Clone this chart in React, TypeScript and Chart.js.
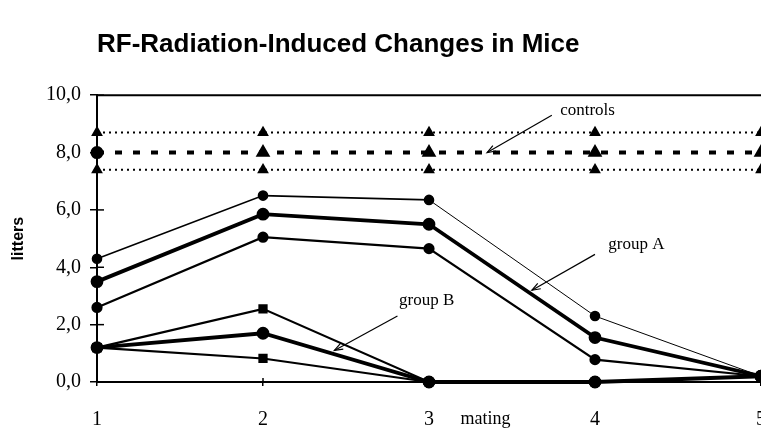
import { useEffect, useRef } from 'react';
import { Chart, registerables } from 'chart.js';

Chart.register(...registerables);

// ---- data ----
const matings = [1, 2, 3, 4, 5];
const yTickValues = [0, 2, 4, 6, 8, 10];

const controlsUpper = [8.7, 8.7, 8.7, 8.7, 8.7];
const controlsMean = [8.0, 8.0, 8.0, 8.0, 8.0];
const controlsLower = [7.4, 7.4, 7.4, 7.4, 7.4];

const groupAUpper = [4.3, 6.5, 6.35, 2.3, 0.2];
const groupAMean = [3.5, 5.85, 5.5, 1.55, 0.2];
const groupALower = [2.6, 5.05, 4.65, 0.78, 0.2];

const groupBUpper = [1.2, 2.55, 0, 0, 0.2];
const groupBMean = [1.2, 1.7, 0, 0, 0.2];
const groupBLower = [1.2, 0.82, 0, 0, 0.2];

const titleText = 'RF-Radiation-Induced Changes in Mice';
const yTitle = 'litters';
const xTitle = 'mating';

// annotation labels (data coordinates)
const labelControls = { text: 'controls', x: 3.79, y: 9.45, fromX: 3.74, fromY: 9.3, toX: 3.35, toY: 8.0 };
const labelGroupA = { text: 'group A', x: 4.08, y: 4.8, fromX: 4.0, fromY: 4.45, toX: 3.62, toY: 3.2 };
const labelGroupB = { text: 'group B', x: 2.82, y: 2.85, fromX: 2.81, fromY: 2.3, toX: 2.43, toY: 1.1 };
const xTitlePos = 3.19;

const pts = (vals: number[]) => matings.map((m, i) => ({ x: m, y: vals[i] }));

const serif = 'Liberation Serif, Times New Roman, serif';

export default function App() {
  const ref = useRef<HTMLCanvasElement>(null);

  useEffect(() => {
    if (!ref.current) return;

    const decor = {
      id: 'decor',
      afterDraw(chart: any) {
        const { ctx, chartArea, scales } = chart;
        const xs = scales.x;
        const ys = scales.y;
        ctx.save();
        ctx.strokeStyle = '#000';
        ctx.fillStyle = '#000';
        // top border
        ctx.lineWidth = 2;
        ctx.beginPath();
        ctx.moveTo(chartArea.left - 1, chartArea.top);
        ctx.lineTo(chartArea.right, chartArea.top);
        ctx.stroke();
        // inner tick marks
        ctx.lineWidth = 1.5;
        yTickValues.forEach((v) => {
          const py = ys.getPixelForValue(v);
          ctx.beginPath();
          ctx.moveTo(chartArea.left, py);
          ctx.lineTo(chartArea.left + 7, py);
          ctx.stroke();
        });
        matings.forEach((m) => {
          const px = xs.getPixelForValue(m);
          ctx.beginPath();
          ctx.moveTo(px, chartArea.bottom);
          ctx.lineTo(px, chartArea.bottom - 4);
          ctx.stroke();
        });
        // annotations
        ctx.font = `17px ${serif}`;
        ctx.textBaseline = 'middle';
        ctx.textAlign = 'left';
        [labelControls, labelGroupA, labelGroupB].forEach((l) => {
          ctx.fillText(l.text, xs.getPixelForValue(l.x), ys.getPixelForValue(l.y));
          const x0 = xs.getPixelForValue(l.fromX);
          const y0 = ys.getPixelForValue(l.fromY);
          const x1 = xs.getPixelForValue(l.toX);
          const y1 = ys.getPixelForValue(l.toY);
          ctx.lineWidth = 1.2;
          ctx.beginPath();
          ctx.moveTo(x0, y0);
          ctx.lineTo(x1, y1);
          ctx.stroke();
          const ang = Math.atan2(y1 - y0, x1 - x0);
          const len = 9;
          ctx.beginPath();
          ctx.moveTo(x1 - len * Math.cos(ang - 0.35), y1 - len * Math.sin(ang - 0.35));
          ctx.lineTo(x1, y1);
          ctx.lineTo(x1 - len * Math.cos(ang + 0.35), y1 - len * Math.sin(ang + 0.35));
          ctx.stroke();
        });
        // x title next to tick labels
        ctx.font = `18px ${serif}`;
        ctx.textBaseline = 'middle';
        ctx.fillText(xTitle, xs.getPixelForValue(xTitlePos), chartArea.bottom + 37);
        ctx.restore();
      },
    };

    const base = {
      borderColor: '#000',
      backgroundColor: '#000',
      pointBackgroundColor: '#000',
      pointBorderColor: '#000',
      tension: 0,
      clip: false as any,
      fill: false,
    };

    const chart = new Chart(ref.current, {
      type: 'line',
      data: {
        datasets: [
          { ...base, label: 'controls upper', data: pts(controlsUpper), borderWidth: 1.8, borderDash: [2, 4], pointStyle: 'triangle', pointRadius: 5 },
          { ...base, label: 'controls', data: pts(controlsMean), borderWidth: 4, borderDash: [7, 11], pointStyle: ['circle', 'triangle', 'triangle', 'triangle', 'triangle'], pointRadius: 4.5 },
          { ...base, label: 'controls lower', data: pts(controlsLower), borderWidth: 1.8, borderDash: [2, 4], pointStyle: 'triangle', pointRadius: 5 },
          {
            ...base, label: 'group A upper', data: pts(groupAUpper), borderWidth: 1.6, pointStyle: 'circle', pointRadius: 4.5,
            segment: { borderWidth: (c: any) => (c.p0DataIndex >= 2 ? 1 : 1.6) },
          },
          { ...base, label: 'group A', data: pts(groupAMean), borderWidth: 3.8, pointStyle: 'circle', pointRadius: 4.5 },
          { ...base, label: 'group A lower', data: pts(groupALower), borderWidth: 2.2, pointStyle: 'circle', pointRadius: 4.5 },
          { ...base, label: 'group B upper', data: pts(groupBUpper), borderWidth: 2.2, pointStyle: ['rect', 'rect', 'circle', 'circle', 'circle'], pointRadius: 5 },
          { ...base, label: 'group B', data: pts(groupBMean), borderWidth: 3.8, pointStyle: 'circle', pointRadius: 4.5 },
          { ...base, label: 'group B lower', data: pts(groupBLower), borderWidth: 2.2, pointStyle: ['rect', 'rect', 'circle', 'circle', 'circle'], pointRadius: 5 },
        ],
      },
      options: {
        animation: false,
        responsive: true,
        maintainAspectRatio: false,
        layout: { padding: 0, autoPadding: false },
        plugins: {
          legend: { display: false },
          tooltip: { enabled: false },
          title: {
            display: true,
            text: titleText,
            align: 'start',
            fullSize: false,
            color: '#000',
            font: { family: 'Liberation Sans, Arial, sans-serif', size: 26, weight: 'bold', lineHeight: 1.2 },
            padding: { top: 29, bottom: 35 },
          },
        },
        scales: {
          x: {
            type: 'linear',
            min: 1,
            max: 5,
            afterFit: (s: any) => {
              s.height = 48;
              s.paddingRight = 0;
              s.paddingLeft = 0;
            },
            border: { display: true, color: '#000', width: 2 },
            grid: { display: true, drawOnChartArea: false, drawTicks: true, tickLength: 4, color: '#000', lineWidth: 1.5 },
            ticks: {
              stepSize: 1,
              padding: 22,
              color: '#000',
              font: { family: serif, size: 20 },
              callback: (v: any) => String(v),
            },
          },
          y: {
            min: 0,
            max: 10,
            afterFit: (s: any) => {
              s.width = 97;
            },
            border: { display: true, color: '#000', width: 2 },
            grid: { display: true, drawOnChartArea: false, drawTicks: true, tickLength: 7, color: '#000', lineWidth: 1.5 },
            ticks: {
              stepSize: 2,
              padding: 9,
              color: '#000',
              font: { family: serif, size: 20 },
              callback: (v: any) => Number(v).toFixed(1).replace('.', ','),
            },
            title: {
              display: true,
              text: yTitle,
              color: '#000',
              font: { family: 'Liberation Sans, Arial, sans-serif', size: 16, weight: 'bold' },
              padding: { top: 9, bottom: 0 },
            },
          },
        },
      },
      plugins: [decor],
    } as any);

    return () => chart.destroy();
  }, []);

  return (
    <div style={{ position: 'absolute', left: 0, top: 0, width: 761, height: 430, background: '#fff' }}>
      <canvas ref={ref} />
    </div>
  );
}
